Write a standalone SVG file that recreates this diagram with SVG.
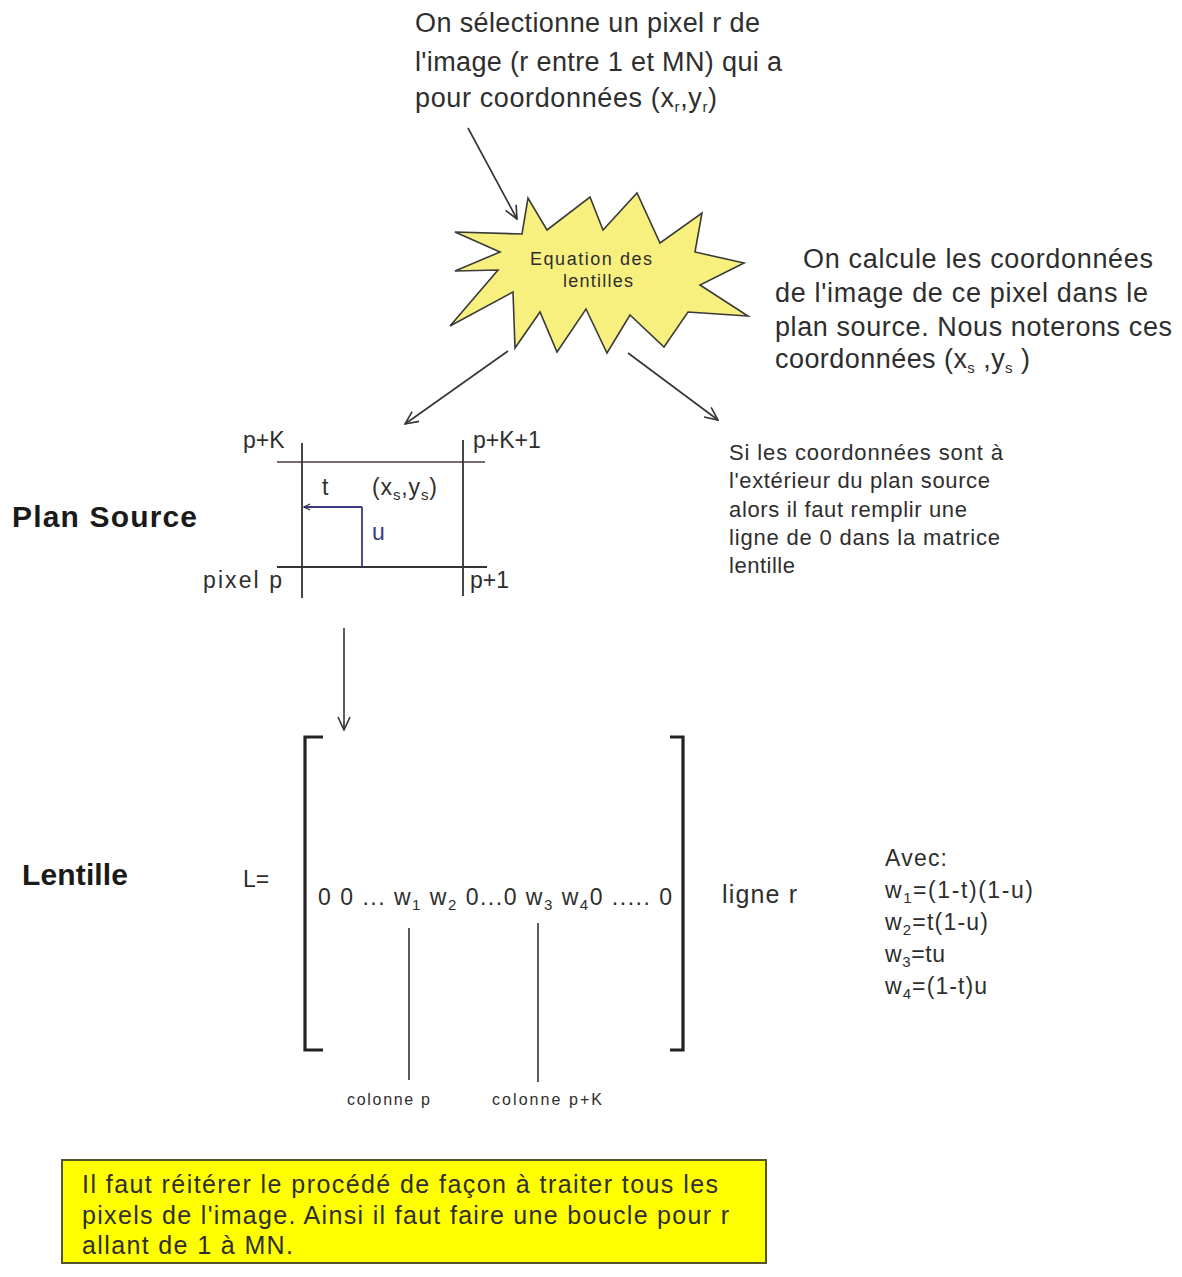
<svg xmlns="http://www.w3.org/2000/svg" width="1182" height="1277" viewBox="0 0 1182 1277">
<style>
text{font-family:"Liberation Sans",Arial,sans-serif;fill:#2e2e2e}
.big{font-size:27px}
.mid{font-size:23px}
.sm{font-size:22px}
.xs{font-size:16px}
.hd{font-size:30px;font-weight:bold;fill:#1a1a1a}
.sub{font-size:15px}
.ln{stroke:#333;stroke-width:1.6;fill:none}
.br{stroke:#222;stroke-width:3.2;fill:none}
</style>
<defs>
<marker id="ah" viewBox="0 0 16 16" refX="15" refY="8" markerWidth="16" markerHeight="16" markerUnits="userSpaceOnUse" orient="auto">
<path d="M2,2 L15,8 L2,14" fill="none" stroke="#333" stroke-width="1.6"/>
</marker>
<marker id="ahb" viewBox="0 0 8 8" refX="7" refY="4" markerWidth="8" markerHeight="8" markerUnits="userSpaceOnUse" orient="auto">
<path d="M1,1 L7,4 L1,7" fill="none" stroke="#334" stroke-width="1.2"/>
</marker>
</defs>
<rect width="1182" height="1277" fill="#ffffff"/>

<g id="select-text">
<text class="big" x="415" y="32" textLength="345">On sélectionne un pixel r de</text>
<text class="big" x="415" y="71" textLength="367">l'image (r entre 1 et MN) qui a</text>
<text class="big" x="415" y="107" textLength="302">pour coordonnées (x<tspan class="sub" dy="5">r</tspan><tspan dy="-5">,y</tspan><tspan class="sub" dy="5">r</tspan><tspan dy="-5">)</tspan></text>
</g>

<g id="equation-star">
<polygon points="455,232 522,234 528,198 547,230 590,197 603,230 637,193 660,243 702,213 695,252 744,263 700,285 748,316 688,312 664,347 630,315 607,353 586,309 557,352 540,312 515,348 513,292 450,326 498,270 455,271 500,252" fill="#f7f07e" stroke="#3a3a3a" stroke-width="1.6" stroke-linejoin="miter"/>
<text x="530" y="265" font-size="18" textLength="122">Equation des</text>
<text x="563" y="287" font-size="18" textLength="70">lentilles</text>
</g>

<g id="calc-text">
<text class="big" x="803" y="268" textLength="350">On calcule les coordonnées</text>
<text class="big" x="775" y="302" textLength="373">de l'image de ce pixel dans le</text>
<text class="big" x="775" y="336" textLength="397">plan source. Nous noterons ces</text>
<text class="big" x="775" y="368" textLength="255">coordonnées (x<tspan class="sub" dy="5">s</tspan><tspan dy="-5"> ,y</tspan><tspan class="sub" dy="5">s</tspan><tspan dy="-5"> )</tspan></text>
</g>

<g id="outside-text">
<text class="sm" x="729" y="460" textLength="274">Si les coordonnées sont à</text>
<text class="sm" x="729" y="488" textLength="261">l'extérieur du plan source</text>
<text class="sm" x="729" y="517" textLength="238">alors il faut remplir une</text>
<text class="sm" x="729" y="545" textLength="271">ligne de 0 dans la matrice</text>
<text class="sm" x="729" y="573" textLength="66">lentille</text>
</g>

<g id="plan-source">
<text class="hd" x="12" y="527" textLength="185">Plan Source</text>
<line x1="277" y1="462" x2="485" y2="462" stroke="#7d6b6b" stroke-width="2"/>
<line x1="277" y1="567" x2="487" y2="567" stroke="#333" stroke-width="1.8"/>
<line x1="302" y1="443" x2="302" y2="598" stroke="#333" stroke-width="1.8"/>
<line x1="463" y1="440" x2="463" y2="596" stroke="#333" stroke-width="1.8"/>
<line x1="362" y1="507" x2="304" y2="507" stroke="#3a3a80" stroke-width="1.8" marker-end="url(#ahb)"/>
<line x1="362" y1="507" x2="362" y2="567" stroke="#3a3a80" stroke-width="1.8"/>
<text class="mid" x="243" y="448">p+K</text>
<text class="mid" x="473" y="448">p+K+1</text>
<text class="mid" x="322" y="495">t</text>
<text class="mid" x="372" y="495" textLength="65">(x<tspan class="sub" dy="5">s</tspan><tspan dy="-5">,y</tspan><tspan class="sub" dy="5">s</tspan><tspan dy="-5">)</tspan></text>
<text class="mid" x="372" y="540" style="fill:#3a3a80">u</text>
<text class="mid" x="203" y="588" textLength="79">pixel p</text>
<text class="mid" x="470" y="588">p+1</text>
</g>

<g id="lentille">
<text class="hd" x="22" y="885" textLength="106">Lentille</text>
<text class="mid" x="243" y="887">L=</text>
<path class="br" d="M323,737 H305 V1050 H323"/>
<path class="br" d="M670,737 H683 V1050 H670"/>
<text font-size="23" x="318" y="905" textLength="354">0 0 ... w<tspan class="sub" dy="5">1</tspan><tspan dy="-5"> w</tspan><tspan class="sub" dy="5">2</tspan><tspan dy="-5"> 0...0 w</tspan><tspan class="sub" dy="5">3</tspan><tspan dy="-5"> w</tspan><tspan class="sub" dy="5">4</tspan><tspan dy="-5">0 ..... 0</tspan></text>
<line class="ln" x1="409" y1="928" x2="409" y2="1080"/>
<line class="ln" x1="538" y1="923" x2="538" y2="1082"/>
<text class="xs" x="347" y="1105" textLength="83">colonne p</text>
<text class="xs" x="492" y="1105" textLength="110">colonne p+K</text>
<text font-size="25" x="722" y="903" textLength="75">ligne r</text>
</g>

<g id="avec">
<text font-size="23" x="885" y="866" textLength="62">Avec:</text>
<text font-size="23" x="885" y="898" textLength="148">w<tspan class="sub" dy="5">1</tspan><tspan dy="-5">=(1-t)(1-u)</tspan></text>
<text font-size="23" x="885" y="930" textLength="103">w<tspan class="sub" dy="5">2</tspan><tspan dy="-5">=t(1-u)</tspan></text>
<text font-size="23" x="885" y="962" textLength="60">w<tspan class="sub" dy="5">3</tspan><tspan dy="-5">=tu</tspan></text>
<text font-size="23" x="885" y="994" textLength="102">w<tspan class="sub" dy="5">4</tspan><tspan dy="-5">=(1-t)u</tspan></text>
</g>

<g id="note-box">
<rect x="62" y="1160" width="704" height="103" fill="#ffff00" stroke="#55552a" stroke-width="2"/>
<text font-size="25" x="82" y="1193" textLength="636">Il faut réitérer  le procédé de façon à traiter tous les</text>
<text font-size="25" x="82" y="1224" textLength="647">pixels de l'image. Ainsi il faut faire une boucle pour r</text>
<text font-size="25" x="82" y="1254" textLength="211">allant de 1 à MN.</text>
</g>

<g id="connectors">
<line class="ln" x1="468" y1="128" x2="517" y2="219" marker-end="url(#ah)"/>
<line class="ln" x1="508" y1="351" x2="405" y2="424" marker-end="url(#ah)"/>
<line class="ln" x1="628" y1="353" x2="718" y2="420" marker-end="url(#ah)"/>
<line class="ln" x1="344" y1="628" x2="344" y2="730" marker-end="url(#ah)"/>
</g>
</svg>
